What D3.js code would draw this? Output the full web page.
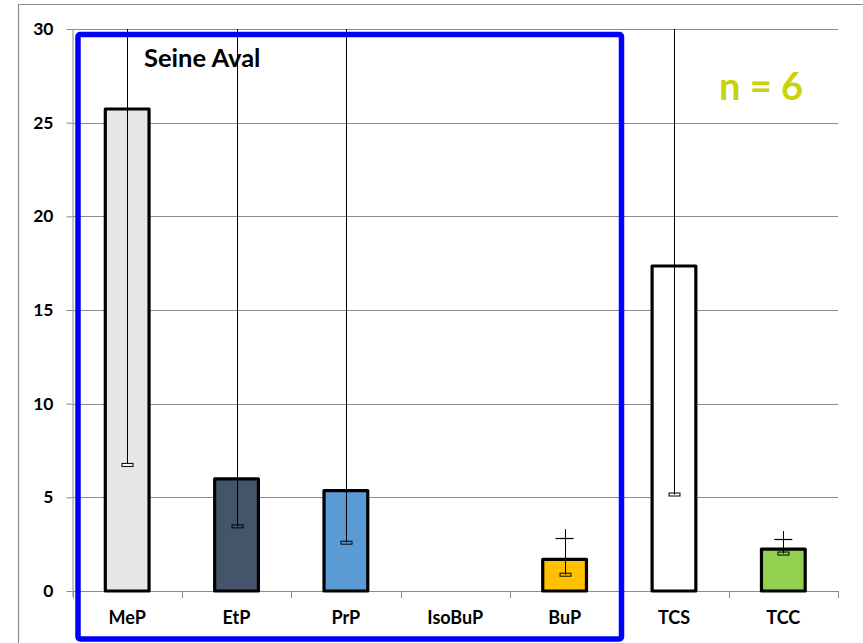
<!DOCTYPE html>
<html>
<head>
<meta charset="utf-8">
<script src="https://cdn.jsdelivr.net/npm/d3@7"></script>
<style>
  html, body { margin: 0; padding: 0; background: #fff; }
  svg { display: block; }
  text { font-family: Lato, "Liberation Sans", Arial, sans-serif; font-weight: bold; }
</style>
</head>
<body>
<svg id="chart" width="863" height="643"></svg>
<script>
// ---- data ----
const categories = ["MeP", "EtP", "PrP", "IsoBuP", "BuP", "TCS", "TCC"];
const values     = [25.73, 5.98, 5.36, 0, 1.69, 17.35, 2.24];
const errLow     = [6.73, 3.45, 2.58, null, 0.87, 5.15, 2.0];
const errHigh    = [30, 30, 30, null, 3.3, 30, 3.2];
const errHighCap = [null, null, null, null, 2.81, null, 2.75];
const barColors  = ["#e6e6e6", "#44546a", "#5b9bd5", "#ffffff", "#ffc000", "#ffffff", "#92d050"];
const yTicks     = [0, 5, 10, 15, 20, 25, 30];
const title      = "Seine Aval";
const nLabel     = "n = 6";

(function () {
// ---- layout ----
const svg = d3.select("#chart");
const pL = 72.5, pR = 838, pT = 29, pB = 591;
const FONT = "Lato, 'Liberation Sans', Arial, sans-serif";

const x = d3.scaleBand().domain(categories).range([pL, pR]).padding(0);
const y = d3.scaleLinear().domain([0, 30]).range([pB, pT]);

// outer frame (partial)
svg.append("line").attr("x1", 18).attr("x2", 863).attr("y1", 4.5).attr("y2", 4.5)
  .attr("stroke", "#8c8c8c").attr("stroke-width", 1.2);
svg.append("line").attr("x1", 18.5).attr("x2", 18.5).attr("y1", 4).attr("y2", 643)
  .attr("stroke", "#8c8c8c").attr("stroke-width", 1.2);

// gridlines
svg.append("g").selectAll("line").data(yTicks.filter(d => d > 0)).join("line")
  .attr("x1", pL).attr("x2", pR)
  .attr("y1", d => Math.round(y(d)) + 0.5).attr("y2", d => Math.round(y(d)) + 0.5)
  .attr("stroke", "#8c8c8c").attr("stroke-width", 1);

// y axis
const yAxis = svg.append("g").attr("transform", `translate(${pL},0)`)
  .call(d3.axisLeft(y).tickValues(yTicks).tickSize(6).tickPadding(13));
yAxis.select(".domain").attr("d", `M0.5,${pT}V${pB + 6}`).attr("stroke", "#8c8c8c");
yAxis.selectAll(".tick line").attr("stroke", "#8c8c8c");
yAxis.selectAll(".tick text").attr("font-size", 17.5).attr("fill", "#000")
  .style("font-family", FONT).style("font-weight", "bold");

// x axis
const xAxis = svg.append("g").attr("transform", `translate(0,${pB})`)
  .call(d3.axisBottom(x).tickSize(0).tickPadding(20));
xAxis.select(".domain").attr("d", `M${pL},0.5H${pR}`).attr("stroke", "#8c8c8c");
xAxis.selectAll(".tick text").attr("font-size", 18).attr("fill", "#000")
  .style("font-family", FONT).style("font-weight", "bold");
// category separators
const bounds = categories.map(c => x(c)).concat([pR]);
svg.append("g").selectAll("line").data(bounds).join("line")
  .attr("x1", d => Math.round(d) + 0.5).attr("x2", d => Math.round(d) + 0.5)
  .attr("y1", pB).attr("y2", pB + 7)
  .attr("stroke", "#8c8c8c").attr("stroke-width", 1);

// bars
const bw = x.bandwidth() * 0.40;
const barData = categories.map((c, i) => ({ c, v: values[i], col: barColors[i], lo: errLow[i], hi: errHigh[i], cap: errHighCap[i] }));
svg.append("g").selectAll("rect").data(barData.filter(d => d.v > 0)).join("rect")
  .attr("x", d => x(d.c) + x.bandwidth() / 2 - bw / 2)
  .attr("y", d => y(d.v))
  .attr("width", bw)
  .attr("height", d => y(0) - y(d.v))
  .attr("fill", d => d.col)
  .attr("stroke", "#000").attr("stroke-width", 3.2).attr("stroke-linejoin", "round");

// error bars
svg.append("clipPath").attr("id", "clip").append("rect")
  .attr("x", pL).attr("y", pT).attr("width", pR - pL).attr("height", pB - pT);
const eg = svg.append("g").attr("clip-path", "url(#clip)");
const errData = barData.filter(d => d.lo != null);
eg.selectAll("line.v").data(errData).join("line").attr("class", "v")
  .attr("x1", d => Math.round(x(d.c) + x.bandwidth() / 2) + 0.5)
  .attr("x2", d => Math.round(x(d.c) + x.bandwidth() / 2) + 0.5)
  .attr("y1", d => y(d.lo)).attr("y2", d => y(d.hi))
  .attr("stroke", "#000").attr("stroke-width", 1);
eg.selectAll("rect.lo").data(errData).join("rect").attr("class", "lo")
  .attr("x", d => Math.round(x(d.c) + x.bandwidth() / 2) - 5)
  .attr("y", d => y(d.lo) - 1.5)
  .attr("width", 11).attr("height", 3)
  .attr("fill", d => d.c === "MeP" ? "#fff" : "none")
  .attr("stroke", "#000").attr("stroke-width", 1);
eg.selectAll("line.cap").data(errData.filter(d => d.cap != null)).join("line").attr("class", "cap")
  .attr("x1", d => x(d.c) + x.bandwidth() / 2 - 9)
  .attr("x2", d => x(d.c) + x.bandwidth() / 2 + 9)
  .attr("y1", d => Math.round(y(d.cap)) + 0.5).attr("y2", d => Math.round(y(d.cap)) + 0.5)
  .attr("stroke", "#000").attr("stroke-width", 1.2);

// blue box
svg.append("rect")
  .attr("x", 78).attr("y", 34.5).attr("width", 621.5 - 78).attr("height", 639 - 34.5)
  .attr("rx", 2).attr("fill", "none").attr("stroke", "#0000ff").attr("stroke-width", 5.5);

// annotations
svg.append("text").attr("x", 144).attr("y", 67).attr("font-size", 25.5).attr("fill", "#000").text(title);
svg.append("text").attr("x", 719).attr("y", 100).attr("font-size", 38).attr("fill", "#c9d20a").text(nLabel);
})();
</script>
</body>
</html>
